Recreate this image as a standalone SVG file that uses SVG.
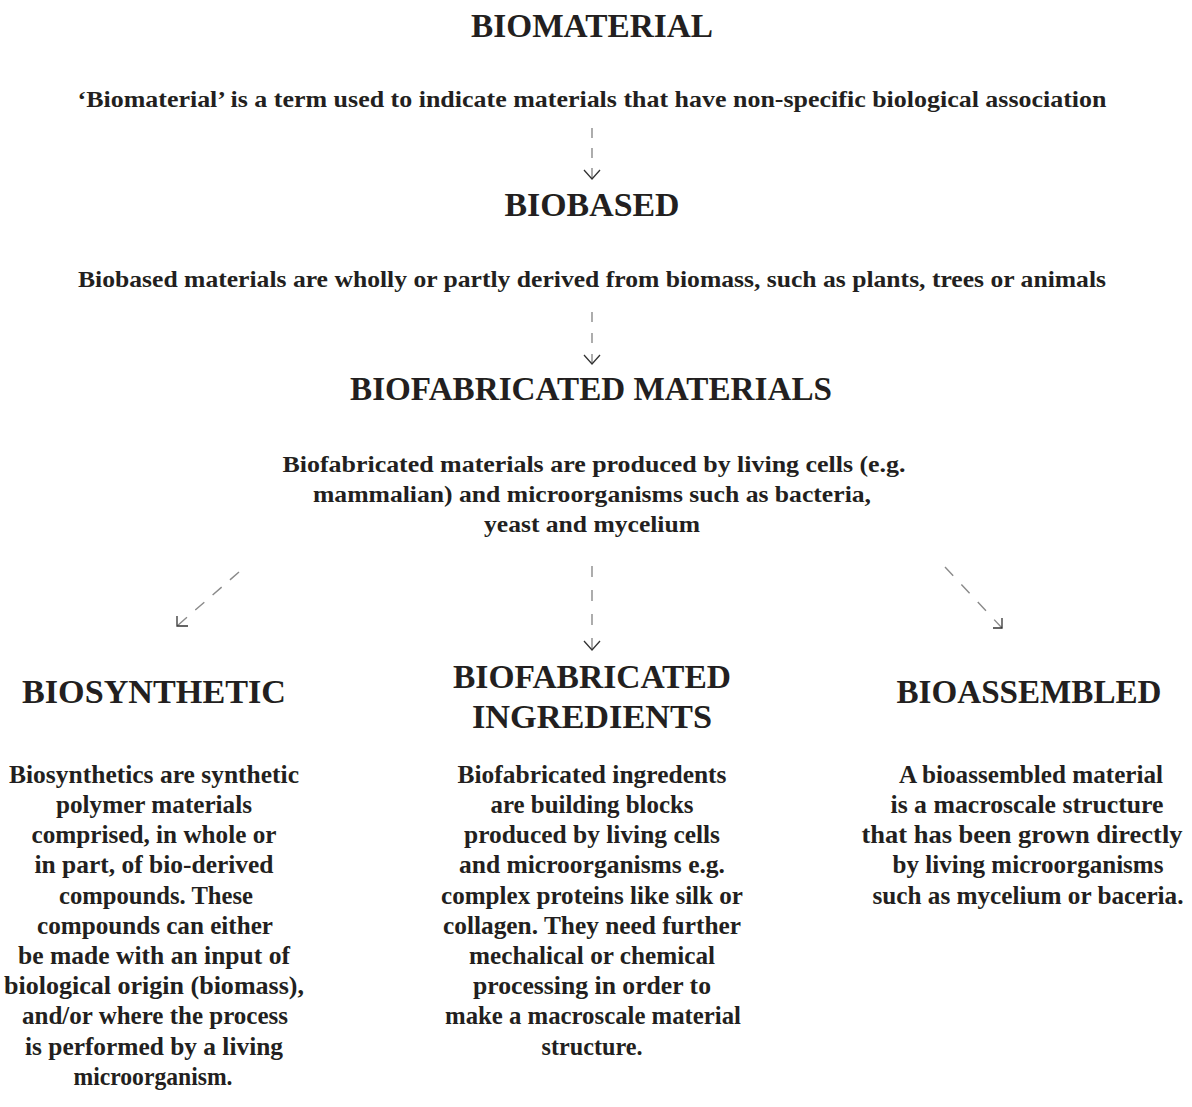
<svg xmlns="http://www.w3.org/2000/svg" width="1192" height="1107" viewBox="0 0 1192 1107">
<style>
text{font-family:"Liberation Serif","Times New Roman",serif;font-weight:bold;fill:#231f20;text-anchor:middle}
.h{font-size:33px}
.s{font-size:24px}
.p{font-size:25.5px}
.dash{stroke:#8a8a8a;stroke-width:1.4;fill:none}
.head{stroke:#333;stroke-width:1.3;fill:none}
</style>
<rect width="1192" height="1107" fill="#fff"/>
<g id="biomaterial">
<text class="h" x="592" y="37" textLength="242" lengthAdjust="spacingAndGlyphs">BIOMATERIAL</text>
<text class="s" x="592" y="107" textLength="1029" lengthAdjust="spacingAndGlyphs">‘Biomaterial’ is a term used to indicate materials that have non-specific biological association</text>
</g>
<g id="biobased">
<text class="h" x="592" y="216" textLength="175" lengthAdjust="spacingAndGlyphs">BIOBASED</text>
<text class="s" x="592" y="287" textLength="1028" lengthAdjust="spacingAndGlyphs">Biobased materials are wholly or partly derived from biomass, such as plants, trees or animals</text>
</g>
<g id="biofabricated-materials">
<text class="h" x="591" y="400" textLength="482" lengthAdjust="spacingAndGlyphs">BIOFABRICATED MATERIALS</text>
<text class="s" x="594" y="472" textLength="623" lengthAdjust="spacingAndGlyphs">Biofabricated materials are produced by living cells (e.g.</text>
<text class="s" x="592" y="502" textLength="558" lengthAdjust="spacingAndGlyphs">mammalian) and microorganisms such as bacteria,</text>
<text class="s" x="592" y="532" textLength="216" lengthAdjust="spacingAndGlyphs">yeast and mycelium</text>
</g>
<g id="biosynthetic">
<text class="h" x="154" y="703" textLength="264" lengthAdjust="spacingAndGlyphs">BIOSYNTHETIC</text>
<text class="p" x="154" y="783" textLength="290" lengthAdjust="spacingAndGlyphs">Biosynthetics are synthetic</text>
<text class="p" x="154" y="813" textLength="196" lengthAdjust="spacingAndGlyphs">polymer materials</text>
<text class="p" x="154" y="843" textLength="245" lengthAdjust="spacingAndGlyphs">comprised, in whole or</text>
<text class="p" x="154" y="873" textLength="239" lengthAdjust="spacingAndGlyphs">in part, of bio-derived</text>
<text class="p" x="156" y="904" textLength="194" lengthAdjust="spacingAndGlyphs">compounds. These</text>
<text class="p" x="155" y="934" textLength="236" lengthAdjust="spacingAndGlyphs">compounds can either</text>
<text class="p" x="154" y="964" textLength="272" lengthAdjust="spacingAndGlyphs">be made with an input of</text>
<text class="p" x="154" y="994" textLength="300" lengthAdjust="spacingAndGlyphs">biological origin (biomass),</text>
<text class="p" x="155" y="1024" textLength="266" lengthAdjust="spacingAndGlyphs">and/or where the process</text>
<text class="p" x="154" y="1055" textLength="258" lengthAdjust="spacingAndGlyphs">is performed by a living</text>
<text class="p" x="153" y="1085" textLength="159" lengthAdjust="spacingAndGlyphs">microorganism.</text>
</g>
<g id="biofabricated-ingredients">
<text class="h" x="592" y="688" textLength="278" lengthAdjust="spacingAndGlyphs">BIOFABRICATED</text>
<text class="h" x="592" y="728" textLength="240" lengthAdjust="spacingAndGlyphs">INGREDIENTS</text>
<text class="p" x="592" y="783" textLength="269" lengthAdjust="spacingAndGlyphs">Biofabricated ingredents</text>
<text class="p" x="592" y="813" textLength="203" lengthAdjust="spacingAndGlyphs">are building blocks</text>
<text class="p" x="592" y="843" textLength="256" lengthAdjust="spacingAndGlyphs">produced by living cells</text>
<text class="p" x="592" y="873" textLength="266" lengthAdjust="spacingAndGlyphs">and microorganisms e.g.</text>
<text class="p" x="592" y="904" textLength="302" lengthAdjust="spacingAndGlyphs">complex proteins like silk or</text>
<text class="p" x="592" y="934" textLength="298" lengthAdjust="spacingAndGlyphs">collagen. They need further</text>
<text class="p" x="592" y="964" textLength="246" lengthAdjust="spacingAndGlyphs">mechalical or chemical</text>
<text class="p" x="592" y="994" textLength="238" lengthAdjust="spacingAndGlyphs">processing in order to</text>
<text class="p" x="593" y="1024" textLength="296" lengthAdjust="spacingAndGlyphs">make a macroscale material</text>
<text class="p" x="592" y="1055" textLength="101" lengthAdjust="spacingAndGlyphs">structure.</text>
</g>
<g id="bioassembled">
<text class="h" x="1029" y="703" textLength="265" lengthAdjust="spacingAndGlyphs">BIOASSEMBLED</text>
<text class="p" x="1031" y="783" textLength="264" lengthAdjust="spacingAndGlyphs">A bioassembled material</text>
<text class="p" x="1027" y="813" textLength="273" lengthAdjust="spacingAndGlyphs">is a macroscale structure</text>
<text class="p" x="1022" y="843" textLength="321" lengthAdjust="spacingAndGlyphs">that has been grown directly</text>
<text class="p" x="1028" y="873" textLength="271" lengthAdjust="spacingAndGlyphs">by living microorganisms</text>
<text class="p" x="1028" y="904" textLength="311" lengthAdjust="spacingAndGlyphs">such as mycelium or baceria.</text>
</g>
<g id="connectors">
<line class="dash" x1="592" y1="128" x2="592" y2="178" stroke-dasharray="10 10"/>
<polyline class="head" points="584,170 592,179 600,170"/>
<line class="dash" x1="592" y1="312" x2="592" y2="363" stroke-dasharray="10 11"/>
<polyline class="head" points="584,355 592,364 600,355"/>
<line class="dash" x1="592" y1="566" x2="592" y2="649" stroke-dasharray="11 13"/>
<polyline class="head" points="584,641 592,650 600,641"/>
<line class="dash" x1="239" y1="572" x2="177" y2="626" stroke-dasharray="12 11"/>
<polyline class="head" points="177,616 177,626 188,626"/>
<line class="dash" x1="945" y1="567" x2="1002" y2="628" stroke-dasharray="12 12"/>
<polyline class="head" points="1002,618 1002,628 993,628"/>
</g>
</svg>
